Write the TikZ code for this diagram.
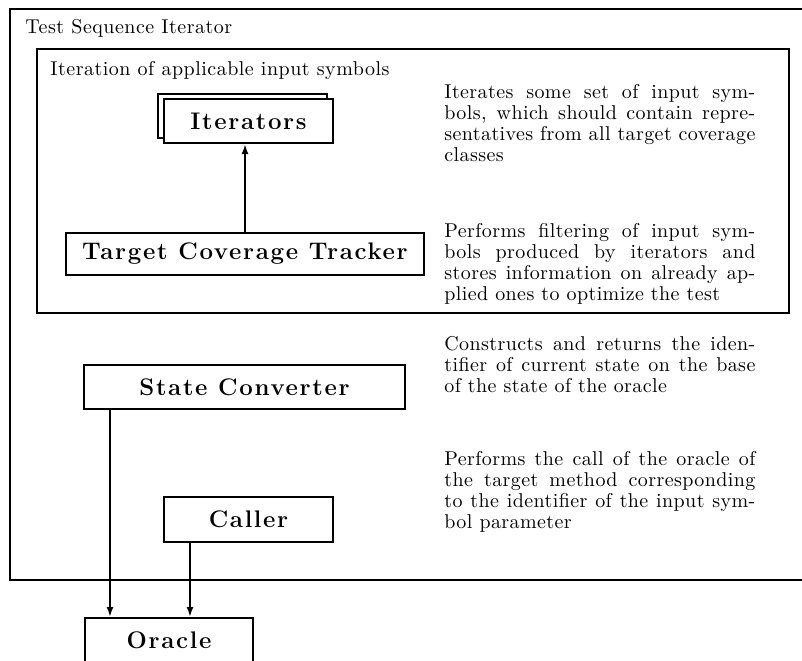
\documentclass[tikz,border=0pt]{standalone}
\usepackage{fontspec}
\setmainfont{Latin Modern Roman}
\usetikzlibrary{arrows.meta}
\tikzset{
  block/.style={draw,line width=1pt,fill=white,inner sep=0pt,font=\fontsize{12}{14}\selectfont\bfseries\addfontfeature{LetterSpace=7}},
  label/.style={anchor=west,inner sep=0pt,font=\addfontfeature{LetterSpace=2.5}},
  note/.style={anchor=north west,inner sep=0pt,text width=155.5pt,align=justify,font=\fontsize{10}{10.5}\selectfont\addfontfeature{LetterSpace=2}},
  frame/.style={line width=1pt},
  arr/.style={line width=1pt,-{Latex[length=5pt,width=3.5pt]}}
}
\begin{document}
\begin{tikzpicture}[x=0.5pt,y=-0.5pt]
\clip (0,0) rectangle (802,660);

\draw[frame] (10,9) rectangle (820,580);
\draw[frame] (37,49) rectangle (789,313);
\node[label] (tsi) at (25,28) {Test Sequence Iterator};
\node[label] (iais) at (50,70) {Iteration of applicable input symbols};

\node[block,minimum width=84.5pt,minimum height=22pt] (iterb) at (242.5,116) {};
\node[block,minimum width=84.5pt,minimum height=22pt] (iter) at (248.5,121) {Iterators};
\node[block,minimum width=179pt,minimum height=21pt] (tct) at (245,254) {Target Coverage Tracker};
\node[block,minimum width=160.5pt,minimum height=22pt] (sc) at (244.5,387) {State Converter};
\node[block,minimum width=84.5pt,minimum height=22.5pt] (caller) at (248.5,519.5) {Caller};
\node[block,minimum width=84pt,minimum height=22pt] (oracle) at (169,640) {Oracle};

\node[note] (d1) at (444,84) {Iterates some set of input sym-\linebreak bols, which should contain repre-\linebreak sentatives from all target coverage\linebreak classes};
\node[note] (d2) at (444,223) {Performs filtering of input sym-\linebreak bols produced by iterators and\linebreak stores information on already ap-\linebreak plied ones to optimize the test};
\node[note] (d3) at (444,336) {Constructs and returns the iden-\linebreak tifier of current state on the base\linebreak of the state of the oracle};
\node[note] (d4) at (444,451) {Performs the call of the oracle of\linebreak the target method corresponding\linebreak to the identifier of the input sym-\linebreak bol parameter};

\draw[arr] (tct.north) -- (tct.north |- iter.south);
\draw[arr] ([xshift=13.5pt]sc.south west) -- ([xshift=13.5pt]sc.south west |- oracle.north);
\draw[arr] ([xshift=13.5pt]caller.south west) -- ([xshift=13.5pt]caller.south west |- oracle.north);
\end{tikzpicture}
\end{document}
